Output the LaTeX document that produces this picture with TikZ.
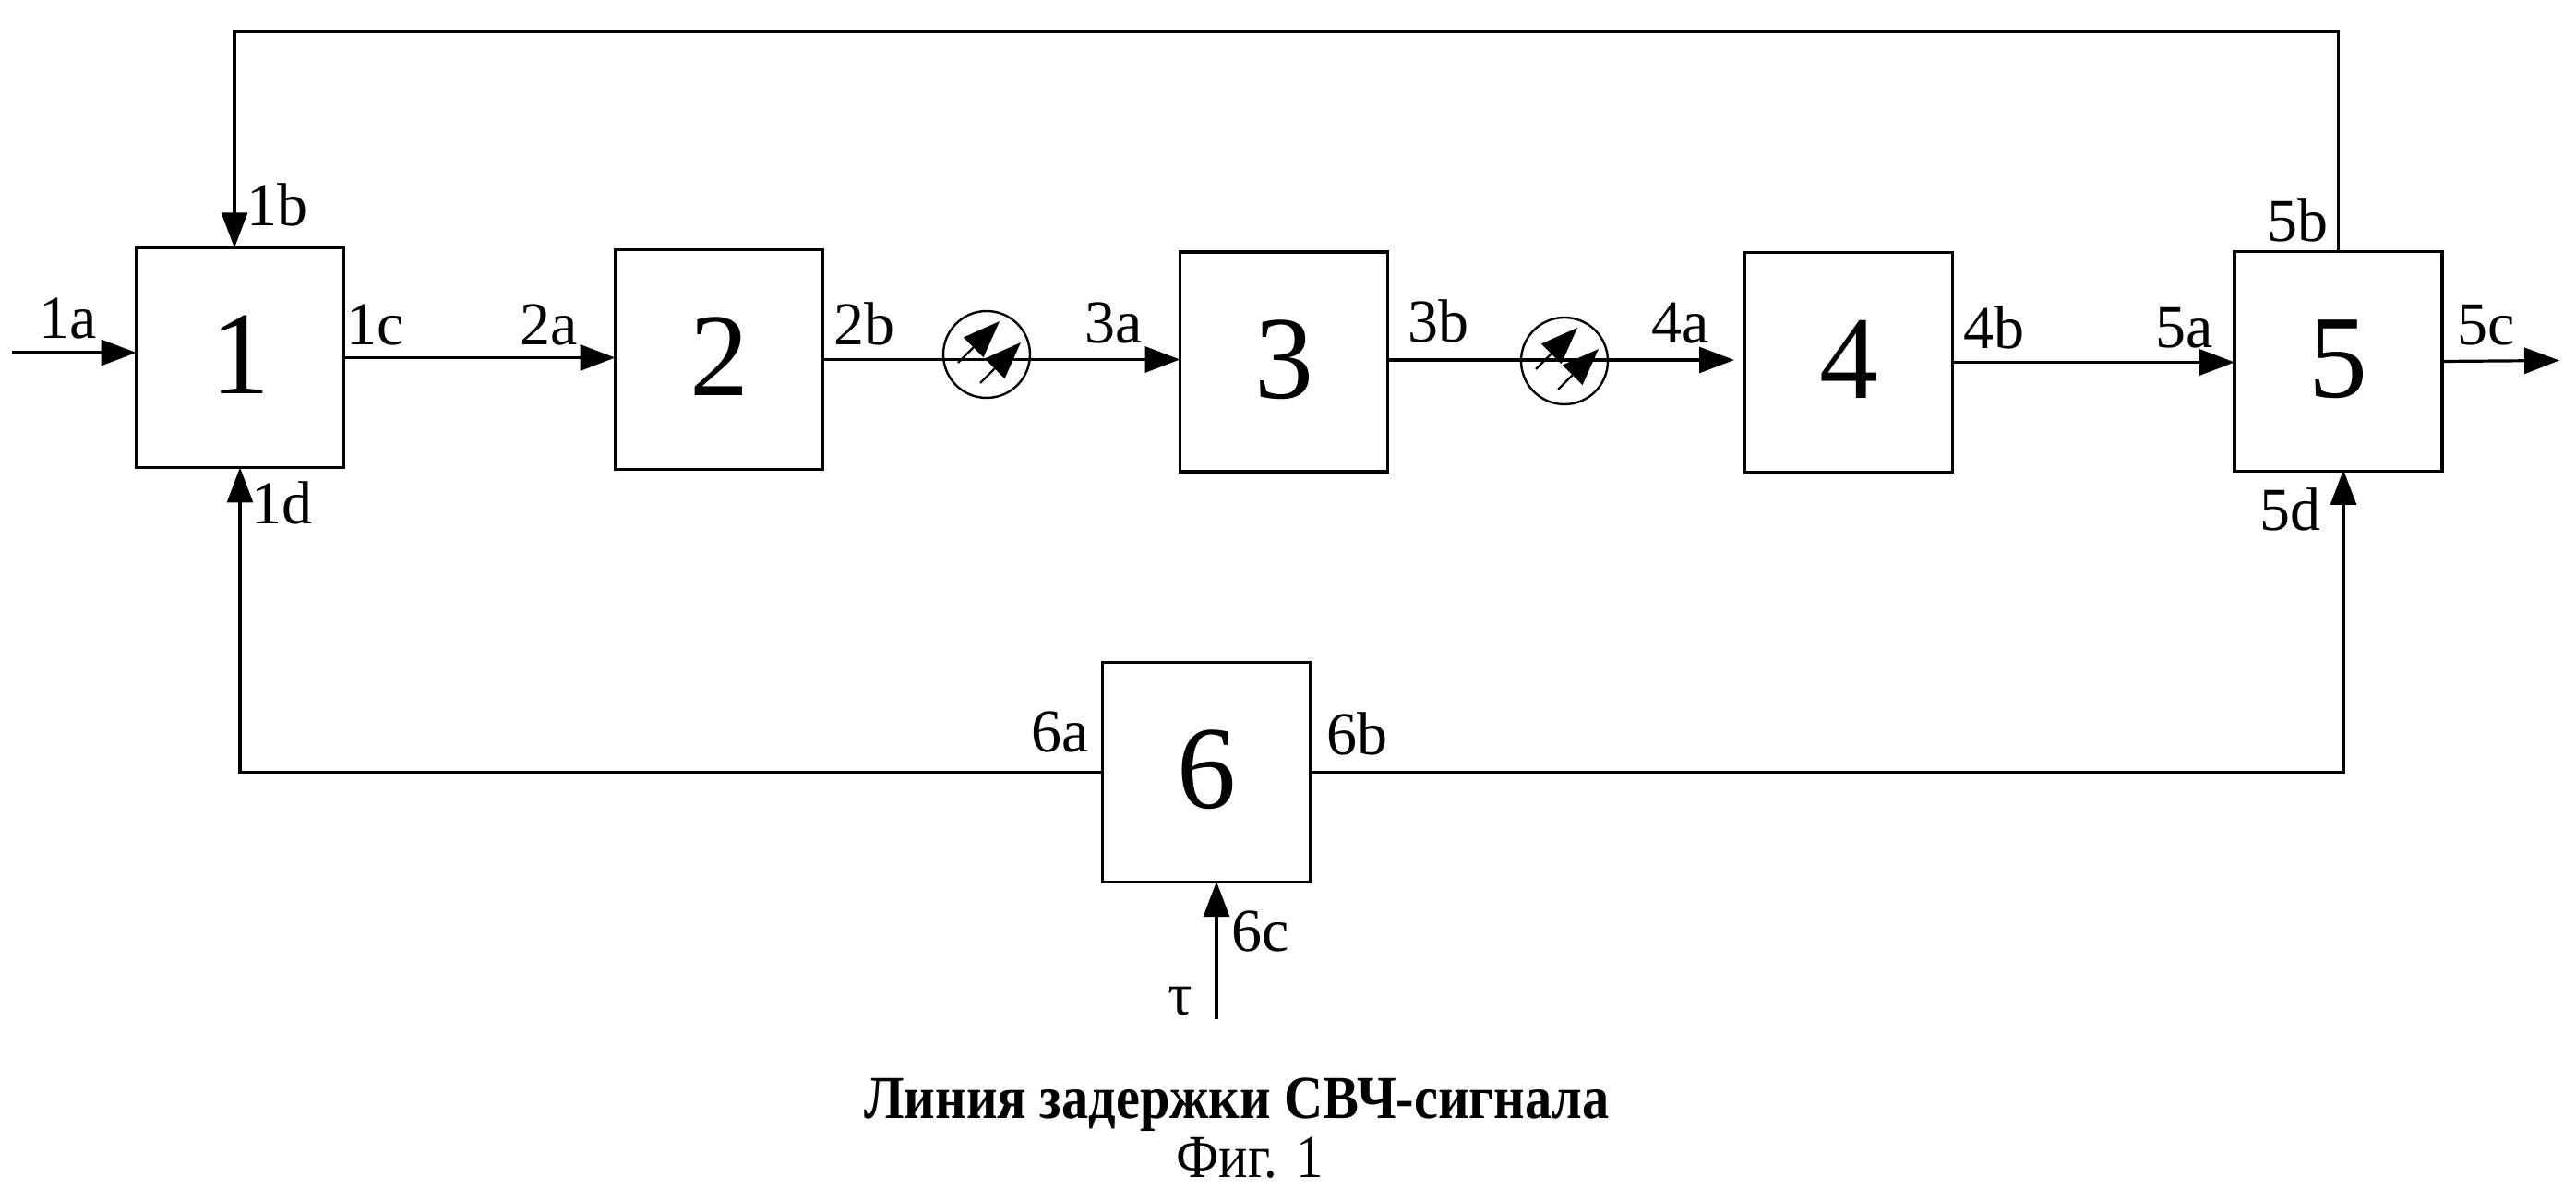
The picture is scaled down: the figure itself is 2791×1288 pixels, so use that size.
\documentclass[tikz,border=0pt]{standalone}
\usepackage{fontspec}
\usepackage{graphicx}
\setmainfont{Liberation Serif}
\usetikzlibrary{arrows.meta}

\tikzstyle{blockfig}=[x=0.5pt,y=-0.5pt]
\tikzstyle{block}=[draw,line width=1.6pt,inner sep=0pt,outer sep=0pt,minimum width=112.5pt,minimum height=119pt,text depth=3pt,font=\fontsize{64}{70}\selectfont]
\tikzstyle{shifter}=[draw,circle,line width=1.2pt,inner sep=0pt,outer sep=0pt,minimum size=47pt]
\tikzstyle{lab}=[anchor=base,inner sep=0pt,font=\fontsize{33}{36}\selectfont]
\tikzstyle{sig}=[line width=1.6pt,-{Triangle[length=19pt,width=14pt]}]
\tikzstyle{tune}=[line width=1.2pt,-{Triangle[length=20pt,width=15pt]}]

\begin{document}
\begin{tikzpicture}[style=blockfig]
\useasboundingbox (0,0) rectangle (2791,1288);

\node[block] (b1) at (260,387.5) {1};
\node[block] (b2) at (779,389.5) {2};
\node[block] (b3) at (1391,392) {3};
\node[block] (b4) at (2003,392.5) {4};
\node[block] (b5) at (2533.5,391.5) {5};
\node[block] (b6) at (1307,836.5) {6};

\node[shifter] (ps1) at (1069,384) {};
\node[shifter] (ps2) at (1695,391) {};

\coordinate (in1) at (13,382);
\coordinate (in4) at (1879,390);
\coordinate (ret) at (254,34);
\coordinate (in5) at (2539,509);
\coordinate (out5) at (2773,390.5);
\coordinate (in6) at (1318,1104);
\coordinate (top6) at (1318,955);

\draw[sig] (in1) -- (in1 -| b1.west);
\draw[sig] (b1.east) -- (b1.east -| b2.west);
\draw[sig] (b2.east) -- (b2.east -| b3.west);
\draw[sig] (in4 -| b3.east) -- (in4);
\draw[sig] (b4.east) -- (b4.east -| b5.west);
\draw[sig] (b5.east) -- (out5);
\draw[sig] (b5.north) |- (ret) -- (ret |- b1.north);
\draw[sig] (b6.west) -| (b1.south);
\draw[sig] (b6.east) -| (in5);
\draw[sig] (in6) -- (top6);

\draw[tune] ([shift={(-31,9)}]ps1.center) -- ([shift={(14,-36)}]ps1.center);
\draw[tune] ([shift={(-7,31)}]ps1.center) -- ([shift={(37,-13)}]ps1.center);
\draw[tune] ([shift={(-31,9)}]ps2.center) -- ([shift={(14,-36)}]ps2.center);
\draw[tune] ([shift={(-7,31)}]ps2.center) -- ([shift={(37,-13)}]ps2.center);

\node[lab] (l1a) at (74,367) {1a};
\node[lab] (l1b) at (300,245) {1b};
\node[lab] (l1c) at (407,374) {1c};
\node[lab] (l1d) at (305,568) {1d};
\node[lab] (l2a) at (595,374) {2a};
\node[lab] (l2b) at (936,374) {2b};
\node[lab] (l3a) at (1207,372) {3a};
\node[lab] (l3b) at (1558,371) {3b};
\node[lab] (l4a) at (1821,372) {4a};
\node[lab] (l4b) at (2160,378) {4b};
\node[lab] (l5a) at (2367,377) {5a};
\node[lab] (l5b) at (2489,262) {5b};
\node[lab] (l5c) at (2694,374) {5c};
\node[lab] (l5d) at (2481,575) {5d};
\node[lab] (l6a) at (1149,814) {6a};
\node[lab] (l6b) at (1470,818) {6b};
\node[lab] (l6c) at (1366,1030) {6c};
\node[lab] (ltau) at (1279,1099) {τ};

\node[lab,font=\fontsize{33}{36}\selectfont\bfseries] (title) at (1340,1211) {\scalebox{0.885}[1]{Линия задержки СВЧ-сигнала}};
\node[lab] (fig) at (1354,1275) {\scalebox{0.89}[1]{Фиг. 1}};
\end{tikzpicture}
\end{document}
